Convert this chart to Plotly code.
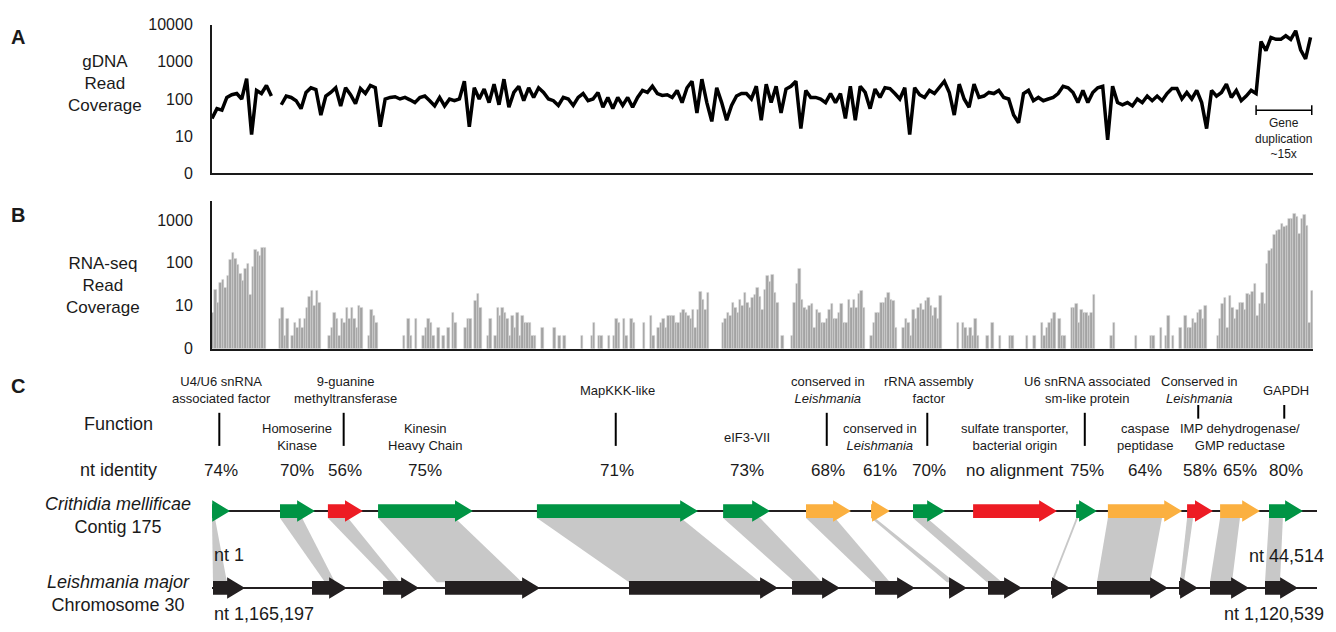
import plotly.graph_objects as go

W, H = 1336, 632
FONT = "Liberation Sans, Arial, Helvetica, sans-serif"
TXT = "#1a1a1a"

# ---------------- Panel A: gDNA read coverage (one point per 0.2 kb) ----------------
LINE_STEP_KB = 0.2
gdna_cov = [
    30, 55, 50, 110, 130, 140, 100, 350, 11, 170, 140, 230, 120, None,
    70, 120, 110, 90, 55, 150, 200, 180, 37, 120, 150, 200, 65, 200, 130, 75,
    190, 140, 230, 200, 18, 100, 110, 115, 100, 110, 95, 80, 110, 120, 90, 65,
    110, 65, 100,
    90, 100, 300, 18, 200, 100, 185, 80, 250, 70, 340, 60, 150, 220, 90, 200,
    110, 200, 150, 100, 90, 67, 110, 100, 67, 110, 140, 90, 100, 150, 60, 110,
    55, 110, 67, 110, 60, 110, 170, 150, 220, 140, 125, 130, 110, 170, 80, 200,
    300, 42, 340, 80, 25, 200, 80, 27, 67, 120, 140, 140, 100, 220, 27, 250,
    80, 220, 42, 185, 220, 300, 16, 170, 110, 110, 100, 80, 140, 80, 140, 30,
    220, 27, 220, 150, 55, 185, 110, 200,
    190, 140, 100, 200, 11, 200, 130, 110, 170, 140, 200, 300, 150, 37, 250, 100,
    60, 250, 110, 120, 150, 140, 170, 110, 100, 37, 23, 140, 170, 90, 110, 90,
    100, 110, 140, 220, 200, 150, 80, 170, 80, 150, 200, 220, 8, 220, 80, 70,
    80, 65, 100, 80, 120, 90, 120, 90, 140, 190, 190, 100, 150, 100, 170, 80,
    16, 170, 120, 150, 250, 110, 170, 90, 120, 170, 140, 3500, 2000, 4500, 4000, 4000,
    5000, 4000, 6800, 2100, 1200, 4500,
]
gdna_ticks = [1, 10, 100, 1000, 10000]
gdna_ticktext = ["0", "10", "100", "1000", "10000"]
dup_region_kb = [42.2, 44.45]

# ---------------- Panel B: RNA-seq read coverage (100 bp bins) ----------------
BIN_KB = 0.1
rna_cov = [
    7, 24, 12, 35, 41, 26, 50, 117, 170, 125, 90, 56, 39, 73, 95, 18, 81, 200, 180, 145,
    230, 220, 0, 0, 0, 0, 0, 5, 9, 2, 5, 0, 2, 4, 3, 5, 3, 5, 9, 16,
    23, 10, 22, 12, 0, 0, 0, 2, 3, 7, 5, 2, 5, 4, 9, 5, 9, 5, 3, 10,
    9, 0, 0, 2, 8, 6, 4, 0, 0, 0, 0, 0, 0, 0, 0, 0, 0, 2, 0, 5,
    2, 0, 5, 0, 0, 2, 3, 5, 4, 2, 0, 3, 0, 2, 0, 3, 0, 7, 4, 0,
    0, 0, 3, 5, 5, 0, 13, 19, 9, 0, 0, 2, 5, 0, 2, 9, 6, 9, 7, 5,
    2, 6, 3, 7, 2, 6, 4, 4, 4, 2, 2, 0, 0, 3, 0, 0, 0, 0, 3, 0,
    2, 0, 2, 0, 0, 0, 0, 0, 0, 2, 0, 0, 0, 2, 4, 0, 2, 2, 0, 0,
    2, 0, 2, 5, 4, 0, 5, 2, 0, 5, 4, 0, 0, 0, 4, 0, 0, 6, 2, 0,
    3, 4, 5, 3, 6, 6, 6, 4, 4, 7, 8, 7, 6, 5, 8, 3, 8, 21, 14, 8,
    20, 0, 0, 0, 0, 0, 4, 5, 7, 6, 12, 9, 7, 14, 10, 20, 12, 9, 15, 18,
    26, 16, 8, 24, 50, 37, 52, 20, 12, 0, 2, 0, 0, 0, 2, 12, 32, 73, 14, 9,
    8, 10, 11, 3, 8, 7, 4, 4, 5, 8, 11, 5, 5, 7, 11, 4, 4, 14, 9, 14,
    9, 19, 23, 9, 0, 0, 2, 4, 7, 7, 12, 12, 15, 20, 14, 13, 3, 0, 0, 3,
    5, 4, 2, 8, 5, 9, 11, 8, 13, 15, 10, 6, 9, 5, 17, 0, 0, 0, 0, 0,
    0, 4, 0, 4, 3, 2, 3, 2, 5, 2, 0, 0, 0, 2, 0, 4, 0, 0, 2, 0,
    0, 0, 2, 2, 0, 0, 0, 0, 0, 2, 0, 0, 2, 0, 0, 4, 2, 3, 4, 5,
    7, 0, 5, 2, 2, 0, 0, 9, 9, 11, 4, 8, 7, 7, 6, 7, 18, 0, 0, 0,
    0, 0, 0, 2, 4, 0, 0, 0, 0, 0, 0, 0, 0, 2, 0, 0, 0, 0, 0, 2,
    2, 0, 0, 3, 0, 2, 6, 0, 2, 0, 0, 3, 0, 6, 3, 3, 5, 4, 7, 8,
    5, 10, 0, 0, 0, 0, 2, 5, 11, 15, 3, 17, 9, 5, 8, 12, 12, 8, 19, 18,
    21, 32, 6, 11, 20, 11, 96, 190, 210, 460, 550, 610, 800, 700, 750, 1070, 1070, 1440, 1200, 490,
    1070, 1350, 730, 4, 22,
]
rna_ticks = [1, 10, 100, 1000]
rna_ticktext = ["0", "10", "100", "1000"]

# ---------------- Panel C: synteny map ----------------
CONTIG_START, CONTIG_END = 1, 44514
LMJ_START, LMJ_END = 1165197, 1120539

crith_start = [1, 2740, 4670, 6690, 13090, 20590, 23930, 26550, 28240, 30660, 34810, 36090, 39280, 40610, 42580]
crith_end = [730, 4150, 6080, 10510, 19580, 22480, 25740, 27310, 29530, 34040, 35650, 39080, 40320, 42220, 43950]
crith_class = ["green", "green", "red", "green", "green", "green", "orange", "orange",
               "green", "red", "green", "orange", "red", "orange", "green"]
functions = [
    "U4/U6 snRNA<br>associated factor", "Homoserine<br>Kinase", "9-guanine<br>methyltransferase",
    "Kinesin<br>Heavy Chain", "MapKKK-like", "eIF3-VII", "conserved in<br><i>Leishmania</i>",
    "conserved in<br><i>Leishmania</i>", "rRNA assembly<br>factor",
    "sulfate transporter,<br>bacterial origin", "U6 snRNA associated<br>sm-like protein",
    "caspase<br>peptidase", "Conserved in<br><i>Leishmania</i>", "IMP dehydrogenase/<br>GMP reductase",
    "GAPDH",
]
identity = ["74%", "70%", "56%", "75%", "71%", "73%", "68%", "61%", "70%", "no alignment",
            "75%", "64%", "58%", "65%", "80%"]

lmj_start = [1165157, 1161156, 1158286, 1155780, 1148344, 1141757, 1138402, 1135412,
             1133836, 1131290, 1129431, 1126117, 1124864, 1122641]
lmj_end = [1163863, 1159741, 1156831, 1151941, 1142323, 1139817, 1136786, 1134685,
           1132462, 1130522, 1126561, 1125349, 1123288, 1121307]

# alignments: contig start/end -> L. major start/end
aln_c_start = [1, 2740, 4670, 6690, 13090, 20590, 23930, 26550, 28240, 34810, 36090, 39280, 40610, 42580]
aln_c_end = [120, 3630, 5480, 9790, 18890, 22080, 25100, 26710, 28800, 34890, 38270, 39520, 41410, 43140]
aln_l_start = [1165157, 1160629, 1158003, 1156104, 1148344, 1141636, 1138483, 1135493, 1133876,
               1131290, 1129431, 1126076, 1124864, 1122641]
aln_l_end = [1164591, 1160225, 1157599, 1152669, 1143050, 1140544, 1137796, 1135170, 1133270,
             1131209, 1127289, 1125915, 1123975, 1122035]

COLORS = {"green": "#009444", "red": "#ED1C24", "orange": "#FBB040", "black": "#231F20"}
ALN_COLOR = "#C8C8C8"
HEAD_NT = 720
BODY_H, HEAD_H = 0.089, 0.14
Y_TOP, Y_BOT = 1.0, 0.0


def px_y(p):
    return 1 - p / H


def lmj_to_x(pos):
    return CONTIG_START + (LMJ_START - pos) / (LMJ_START - LMJ_END) * (CONTIG_END - CONTIG_START)


def arrow_path(s, e, y):
    head = min(HEAD_NT, e - s)
    hs = e - head
    if head >= e - s:
        return f"M{s},{y - HEAD_H} L{e},{y} L{s},{y + HEAD_H} Z"
    return (f"M{s},{y - BODY_H} L{hs},{y - BODY_H} L{hs},{y - HEAD_H} L{e},{y} "
            f"L{hs},{y + HEAD_H} L{hs},{y + BODY_H} L{s},{y + BODY_H} Z")


fig = go.Figure()

fig.add_trace(go.Scatter(
    x=[i * LINE_STEP_KB for i in range(len(gdna_cov))], y=gdna_cov, mode="lines",
    line=dict(color="#000000", width=3.5), connectgaps=False, xaxis="x", yaxis="y",
    hoverinfo="skip"))

fig.add_trace(go.Bar(
    x=[(i + 0.5) * BIN_KB for i in range(len(rna_cov))],
    y=[v if v > 0 else None for v in rna_cov], width=BIN_KB,
    marker=dict(color="#A3A3A3", line=dict(color="#DADADA", width=0.5)),
    xaxis="x2", yaxis="y2", hoverinfo="skip"))

shapes = []
# gene duplication bracket
yb = px_y(105)
shapes.append(dict(type="line", xref="x", yref="paper", x0=dup_region_kb[0], x1=dup_region_kb[1],
                   y0=yb, y1=yb, line=dict(color="#000", width=1.5)))
for xv in dup_region_kb:
    shapes.append(dict(type="line", xref="x", yref="paper", x0=xv, x1=xv, y0=px_y(100), y1=px_y(110),
                       line=dict(color="#000", width=1.5)))

# alignment bands
for cs, ce, ls, le in zip(aln_c_start, aln_c_end, aln_l_start, aln_l_end):
    yt, ybt = Y_TOP - BODY_H, Y_BOT + BODY_H * 0.85
    path = f"M{cs},{yt} L{ce},{yt} L{lmj_to_x(le)},{ybt} L{lmj_to_x(ls)},{ybt} Z"
    shapes.append(dict(type="path", xref="x3", yref="y3", path=path, fillcolor=ALN_COLOR,
                       line=dict(width=0)))
# backbones
for yv in (Y_TOP, Y_BOT):
    shapes.append(dict(type="line", xref="x3", yref="y3", x0=CONTIG_START, x1=CONTIG_END, y0=yv, y1=yv,
                       line=dict(color=COLORS["black"], width=2)))
# genes
for s, e, c in zip(crith_start, crith_end, crith_class):
    shapes.append(dict(type="path", xref="x3", yref="y3", path=arrow_path(s, e, Y_TOP),
                       fillcolor=COLORS[c], line=dict(width=0)))
for s, e in zip(lmj_start, lmj_end):
    shapes.append(dict(type="path", xref="x3", yref="y3",
                       path=arrow_path(lmj_to_x(s), lmj_to_x(e), Y_BOT),
                       fillcolor=COLORS["black"], line=dict(width=0)))

annotations = []


def ann(text, x, y, size, xref="paper", xanchor="center", yanchor="middle", bold=False):
    if bold:
        text = f"<b>{text}</b>"
    annotations.append(dict(text=text, x=x, y=y, xref=xref, yref="paper", xanchor=xanchor,
                            yanchor=yanchor, showarrow=False, align="center",
                            font=dict(family=FONT, size=size, color=TXT)))


ann("A", 18 / W, px_y(30), 20, bold=True)
ann("B", 18 / W, px_y(213), 20, bold=True)
ann("C", 18 / W, px_y(388), 20, bold=True)
ann("gDNA<br>Read<br>Coverage", 105 / W, px_y(78), 17)
ann("RNA-seq<br>Read<br>Coverage", 103 / W, px_y(285), 17)
ann("Gene<br>duplication<br>~15x", sum(dup_region_kb) / 2, px_y(134), 12, xref="x")
ann("Function", 118 / W, px_y(428), 18)
ann("nt identity", 118 / W, px_y(475), 18)
ann("<i>Crithidia mellificae</i><br>Contig 175", 118 / W, px_y(522), 18)
ann("<i>Leishmania major</i><br>Chromosome 30", 118 / W, px_y(602), 18)
ann(f"nt {CONTIG_START:,}", 212 / W, px_y(562), 18, xanchor="left")
ann(f"nt {CONTIG_END:,}", 1326 / W, px_y(563), 18, xanchor="right")
ann(f"nt {LMJ_START:,}", 212 / W, px_y(623), 18, xanchor="left")
ann(f"nt {LMJ_END:,}", 1326 / W, px_y(623), 18, xanchor="right")

for i, (s, e) in enumerate(zip(crith_start, crith_end)):
    cx = (s + e) / 2
    high = (i % 2 == 0)
    ann(functions[i], cx, px_y(393 if high else 441), 13, xref="x3")
    ann(identity[i], cx, px_y(475), 17, xref="x3")
    if high:
        y0, y1 = (416, 450) if i < 12 else (408, 422)
        shapes.append(dict(type="line", xref="x3", yref="paper", x0=cx - 70, x1=cx - 70,
                           y0=px_y(y0), y1=px_y(y1), line=dict(color="#000", width=2)))

axis_common = dict(showgrid=False, zeroline=False, showline=True, linecolor="#1a1a1a", linewidth=2)
x_dom = [212 / W, 1313 / W]

fig.update_layout(
    width=W, height=H, margin=dict(l=0, r=0, t=0, b=0),
    paper_bgcolor="white", plot_bgcolor="white", showlegend=False, bargap=0,
    font=dict(family=FONT, color=TXT),
    xaxis=dict(domain=x_dom, range=[0, 44.5], anchor="y", showticklabels=False, ticks="", **axis_common),
    yaxis=dict(domain=[px_y(170), px_y(17)], type="log", range=[0, 4], anchor="x",
               tickvals=gdna_ticks, ticktext=gdna_ticktext, ticks="outside", ticklen=14,
               tickcolor="rgba(0,0,0,0)", tickfont=dict(size=16, color=TXT, family=FONT), **axis_common),
    xaxis2=dict(domain=x_dom, range=[0, 44.5], anchor="y2", showticklabels=False, ticks="", **axis_common),
    yaxis2=dict(domain=[px_y(350), px_y(198)], type="log", range=[0, 3.45], anchor="x2",
                tickvals=rna_ticks, ticktext=rna_ticktext, ticks="outside", ticklen=14,
                tickcolor="rgba(0,0,0,0)", tickfont=dict(size=16, color=TXT, family=FONT), **axis_common),
    xaxis3=dict(domain=[212 / W, 1317 / W], range=[CONTIG_START, CONTIG_END], anchor="y3", visible=False),
    yaxis3=dict(domain=[px_y(615.75), px_y(497.25)], range=[-0.25, 1.25], anchor="x3", visible=False),
    shapes=shapes, annotations=annotations,
)

fig.write_html(
    "out.html",
    config={"displayModeBar": False},
    post_script="document.body.style.margin='0';document.body.style.overflow='hidden';",
)
